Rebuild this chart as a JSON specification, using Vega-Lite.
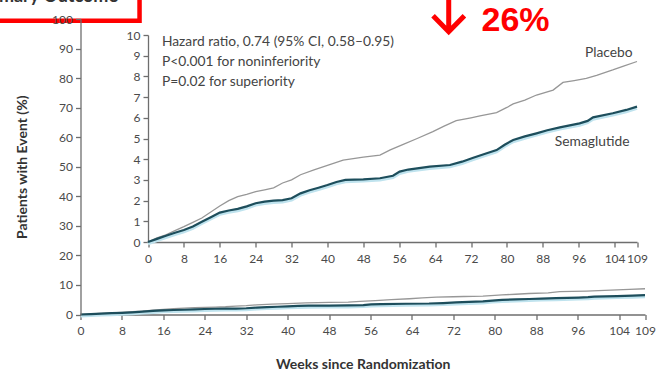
{
  "$schema": "https://vega.github.io/schema/vega-lite/v6.json",
  "width": 564.5,
  "height": 295.5,
  "autosize": {"type": "none"},
  "padding": {"left": 80.5, "top": 19, "right": 14, "bottom": 59.5},
  "background": "white",
  "config": {
    "view": {"stroke": null},
    "font": "Lato",
    "axis": {
      "grid": false,
      "domainColor": "#6e6e6e",
      "domainWidth": 1.3,
      "tickColor": "#6e6e6e",
      "tickWidth": 1.3,
      "tickSize": 5,
      "labelColor": "#4a4a4a",
      "labelFontSize": 12,
      "labelPadding": 3,
      "labelOverlap": false,
      "labelFlush": false,
      "titleColor": "#333333",
      "titleFontSize": 14,
      "titleFontWeight": "bold"
    }
  },
  "datasets": {
    "km": [
      {"arm": "Placebo", "week": 0, "pct": 0},
      {"arm": "Placebo", "week": 2, "pct": 0.2},
      {"arm": "Placebo", "week": 4, "pct": 0.35},
      {"arm": "Placebo", "week": 6, "pct": 0.55},
      {"arm": "Placebo", "week": 8, "pct": 0.74},
      {"arm": "Placebo", "week": 10, "pct": 0.95},
      {"arm": "Placebo", "week": 12, "pct": 1.16},
      {"arm": "Placebo", "week": 14, "pct": 1.45},
      {"arm": "Placebo", "week": 16, "pct": 1.74},
      {"arm": "Placebo", "week": 18, "pct": 2.0},
      {"arm": "Placebo", "week": 20, "pct": 2.19},
      {"arm": "Placebo", "week": 22, "pct": 2.3},
      {"arm": "Placebo", "week": 24, "pct": 2.43},
      {"arm": "Placebo", "week": 26, "pct": 2.52},
      {"arm": "Placebo", "week": 28, "pct": 2.62},
      {"arm": "Placebo", "week": 30, "pct": 2.85},
      {"arm": "Placebo", "week": 32, "pct": 3.0},
      {"arm": "Placebo", "week": 34, "pct": 3.25},
      {"arm": "Placebo", "week": 37, "pct": 3.48},
      {"arm": "Placebo", "week": 40, "pct": 3.7},
      {"arm": "Placebo", "week": 43.5, "pct": 3.96},
      {"arm": "Placebo", "week": 48, "pct": 4.1},
      {"arm": "Placebo", "week": 51.7, "pct": 4.2},
      {"arm": "Placebo", "week": 54, "pct": 4.45},
      {"arm": "Placebo", "week": 56.9, "pct": 4.72},
      {"arm": "Placebo", "week": 60, "pct": 5.0},
      {"arm": "Placebo", "week": 63.5, "pct": 5.33},
      {"arm": "Placebo", "week": 66, "pct": 5.6},
      {"arm": "Placebo", "week": 68.7, "pct": 5.86},
      {"arm": "Placebo", "week": 72, "pct": 6.0},
      {"arm": "Placebo", "week": 74, "pct": 6.09},
      {"arm": "Placebo", "week": 77.7, "pct": 6.25},
      {"arm": "Placebo", "week": 80, "pct": 6.5},
      {"arm": "Placebo", "week": 81.4, "pct": 6.67},
      {"arm": "Placebo", "week": 84, "pct": 6.85},
      {"arm": "Placebo", "week": 86.6, "pct": 7.1},
      {"arm": "Placebo", "week": 90.3, "pct": 7.34},
      {"arm": "Placebo", "week": 92.5, "pct": 7.71},
      {"arm": "Placebo", "week": 95, "pct": 7.8},
      {"arm": "Placebo", "week": 97.7, "pct": 7.9},
      {"arm": "Placebo", "week": 100, "pct": 8.05},
      {"arm": "Placebo", "week": 103.6, "pct": 8.31},
      {"arm": "Placebo", "week": 106, "pct": 8.5},
      {"arm": "Placebo", "week": 109, "pct": 8.72},
      {"arm": "Semaglutide", "week": 0, "pct": 0},
      {"arm": "Semaglutide", "week": 2, "pct": 0.15},
      {"arm": "Semaglutide", "week": 4, "pct": 0.3},
      {"arm": "Semaglutide", "week": 6, "pct": 0.45},
      {"arm": "Semaglutide", "week": 8, "pct": 0.58},
      {"arm": "Semaglutide", "week": 10, "pct": 0.75},
      {"arm": "Semaglutide", "week": 12, "pct": 0.98},
      {"arm": "Semaglutide", "week": 14, "pct": 1.2},
      {"arm": "Semaglutide", "week": 16, "pct": 1.42},
      {"arm": "Semaglutide", "week": 18, "pct": 1.52},
      {"arm": "Semaglutide", "week": 20, "pct": 1.6},
      {"arm": "Semaglutide", "week": 22, "pct": 1.72},
      {"arm": "Semaglutide", "week": 24, "pct": 1.87},
      {"arm": "Semaglutide", "week": 26, "pct": 1.95},
      {"arm": "Semaglutide", "week": 28, "pct": 2.0},
      {"arm": "Semaglutide", "week": 30, "pct": 2.02},
      {"arm": "Semaglutide", "week": 32, "pct": 2.11},
      {"arm": "Semaglutide", "week": 34, "pct": 2.35},
      {"arm": "Semaglutide", "week": 36, "pct": 2.5},
      {"arm": "Semaglutide", "week": 38, "pct": 2.62},
      {"arm": "Semaglutide", "week": 40, "pct": 2.75},
      {"arm": "Semaglutide", "week": 42, "pct": 2.9},
      {"arm": "Semaglutide", "week": 44, "pct": 3.0},
      {"arm": "Semaglutide", "week": 48, "pct": 3.03},
      {"arm": "Semaglutide", "week": 51.7, "pct": 3.08},
      {"arm": "Semaglutide", "week": 54.6, "pct": 3.2},
      {"arm": "Semaglutide", "week": 56.1, "pct": 3.4},
      {"arm": "Semaglutide", "week": 58, "pct": 3.5},
      {"arm": "Semaglutide", "week": 62.8, "pct": 3.64},
      {"arm": "Semaglutide", "week": 67.3, "pct": 3.72},
      {"arm": "Semaglutide", "week": 70, "pct": 3.88},
      {"arm": "Semaglutide", "week": 72.5, "pct": 4.07},
      {"arm": "Semaglutide", "week": 75, "pct": 4.25},
      {"arm": "Semaglutide", "week": 77.7, "pct": 4.44},
      {"arm": "Semaglutide", "week": 79.5, "pct": 4.7},
      {"arm": "Semaglutide", "week": 81.4, "pct": 4.93},
      {"arm": "Semaglutide", "week": 84, "pct": 5.1},
      {"arm": "Semaglutide", "week": 86.6, "pct": 5.25},
      {"arm": "Semaglutide", "week": 89, "pct": 5.4},
      {"arm": "Semaglutide", "week": 91.8, "pct": 5.54},
      {"arm": "Semaglutide", "week": 96.2, "pct": 5.73},
      {"arm": "Semaglutide", "week": 98, "pct": 5.85},
      {"arm": "Semaglutide", "week": 99.2, "pct": 6.02},
      {"arm": "Semaglutide", "week": 103.6, "pct": 6.22},
      {"arm": "Semaglutide", "week": 106.6, "pct": 6.38},
      {"arm": "Semaglutide", "week": 109, "pct": 6.54}
    ]
  },
  "resolve": {
    "scale": {"x": "independent", "y": "independent"},
    "axis": {"x": "independent", "y": "independent"}
  },
  "layer": [
    {
      "layer": [
        {
          "data": {"name": "km"},
          "transform": [{"filter": "datum.arm === 'Semaglutide'"}],
          "mark": {"type": "line", "color": "#bfe3ee", "strokeWidth": 3, "yOffset": 1.5},
          "encoding": {
            "x": {"field": "week", "type": "quantitative", "scale": {"domain": [0, 109], "nice": false, "zero": false},
              "axis": {"orient": "bottom", "values": [0, 8, 16, 24, 32, 40, 48, 56, 64, 72, 80, 88, 96, 104, 109], "title": "Weeks since Randomization", "titleBaseline": "middle", "titleY": 50, "labelPadding": 6, "labelOverlap": false}},
            "y": {"field": "pct", "type": "quantitative", "scale": {"domain": [0, 100], "nice": false},
              "axis": {"orient": "left", "zindex": 1, "values": [0, 10, 20, 30, 40, 50, 60, 70, 80, 90, 100], "title": "Patients with Event (%)", "titleBaseline": "middle", "titleX": -58.5, "titleY": 147.75, "labelOverlap": false}}
          }
        },
        {
          "data": {"name": "km"},
          "mark": {"type": "line"},
          "encoding": {
            "x": {"field": "week", "type": "quantitative",
              "axis": {"orient": "bottom", "values": [0, 8, 16, 24, 32, 40, 48, 56, 64, 72, 80, 88, 96, 104, 109], "title": "Weeks since Randomization", "titleBaseline": "middle", "titleY": 50, "labelPadding": 6, "labelOverlap": false}},
            "y": {"field": "pct", "type": "quantitative",
              "axis": {"orient": "left", "zindex": 1, "values": [0, 10, 20, 30, 40, 50, 60, 70, 80, 90, 100], "title": "Patients with Event (%)", "titleBaseline": "middle", "titleX": -58.5, "titleY": 147.75, "labelOverlap": false}},
            "color": {"field": "arm", "type": "nominal", "scale": {"domain": ["Placebo", "Semaglutide"], "range": ["#979797", "#1d4e5c"]}, "legend": null},
            "strokeWidth": {"field": "arm", "type": "nominal", "scale": {"domain": ["Placebo", "Semaglutide"], "range": [1.3, 2.2]}, "legend": null}
          }
        },
        {
          "data": {"values": [{"box": "outcome"}]},
          "mark": {"type": "rect", "fill": "white", "stroke": "#ff0000", "strokeWidth": 4.5},
          "encoding": {
            "x": {"datum": -20, "type": "quantitative",
              "axis": {"orient": "bottom", "values": [0, 8, 16, 24, 32, 40, 48, 56, 64, 72, 80, 88, 96, 104, 109], "title": "Weeks since Randomization", "titleBaseline": "middle", "titleY": 50, "labelPadding": 6, "labelOverlap": false}},
            "x2": {"datum": 11.4},
            "y": {"datum": 99.4, "type": "quantitative",
              "axis": {"orient": "left", "zindex": 1, "values": [0, 10, 20, 30, 40, 50, 60, 70, 80, 90, 100], "title": "Patients with Event (%)", "titleBaseline": "middle", "titleX": -58.5, "titleY": 147.75, "labelOverlap": false}},
            "y2": {"datum": 112}
          }
        },
        {
          "data": {"values": [{"label": "Primary Outcome"}]},
          "mark": {"type": "text", "align": "right", "baseline": "alphabetic", "fontSize": 18, "fontWeight": "bold", "color": "#333333"},
          "encoding": {
            "x": {"datum": 7.24, "type": "quantitative",
              "axis": {"orient": "bottom", "values": [0, 8, 16, 24, 32, 40, 48, 56, 64, 72, 80, 88, 96, 104, 109], "title": "Weeks since Randomization", "titleBaseline": "middle", "titleY": 50, "labelPadding": 6, "labelOverlap": false}},
            "y": {"datum": 105.9, "type": "quantitative",
              "axis": {"orient": "left", "zindex": 1, "values": [0, 10, 20, 30, 40, 50, 60, 70, 80, 90, 100], "title": "Patients with Event (%)", "titleBaseline": "middle", "titleX": -58.5, "titleY": 147.75, "labelOverlap": false}},
            "text": {"field": "label"}
          }
        },
        {
          "data": {"values": [{"marker": "down arrow"}]},
          "mark": {"type": "point", "filled": false, "opacity": 1, "stroke": "#ff0000", "strokeWidth": 5, "size": 1089,
            "shape": "M0,-1L0,0.92M-0.95,-0.05L0,0.92L0.95,-0.05"},
          "encoding": {
            "x": {"datum": 71.1, "type": "quantitative",
              "axis": {"orient": "bottom", "values": [0, 8, 16, 24, 32, 40, 48, 56, 64, 72, 80, 88, 96, 104, 109], "title": "Weeks since Randomization", "titleBaseline": "middle", "titleY": 50, "labelPadding": 6, "labelOverlap": false}},
            "y": {"datum": 100.85, "type": "quantitative",
              "axis": {"orient": "left", "zindex": 1, "values": [0, 10, 20, 30, 40, 50, 60, 70, 80, 90, 100], "title": "Patients with Event (%)", "titleBaseline": "middle", "titleX": -58.5, "titleY": 147.75, "labelOverlap": false}}
          }
        },
        {
          "data": {"values": [{"label": "26%"}]},
          "mark": {"type": "text", "align": "center", "baseline": "alphabetic", "fontSize": 34, "fontWeight": "bold", "font": "Liberation Sans", "color": "#ff0000"},
          "encoding": {
            "x": {"datum": 84.0, "type": "quantitative",
              "axis": {"orient": "bottom", "values": [0, 8, 16, 24, 32, 40, 48, 56, 64, 72, 80, 88, 96, 104, 109], "title": "Weeks since Randomization", "titleBaseline": "middle", "titleY": 50, "labelPadding": 6, "labelOverlap": false}},
            "y": {"datum": 96.1, "type": "quantitative",
              "axis": {"orient": "left", "zindex": 1, "values": [0, 10, 20, 30, 40, 50, 60, 70, 80, 90, 100], "title": "Patients with Event (%)", "titleBaseline": "middle", "titleX": -58.5, "titleY": 147.75, "labelOverlap": false}},
            "text": {"field": "label"}
          }
        }
      ]
    },
    {
      "layer": [
        {
          "data": {"name": "km"},
          "transform": [{"filter": "datum.arm === 'Semaglutide'"}],
          "mark": {"type": "line", "color": "#bfe3ee", "strokeWidth": 3, "yOffset": 1.8},
          "encoding": {
            "x": {"field": "week", "type": "quantitative", "scale": {"domain": [0, 109], "range": [67.5, 556.5], "nice": false, "zero": false},
              "axis": {"orient": "bottom", "offset": -72.5, "values": [0, 8, 16, 24, 32, 40, 48, 56, 64, 72, 80, 88, 96, 104, 109], "title": null, "labelPadding": 6, "labelOverlap": false}},
            "y": {"field": "pct", "type": "quantitative", "scale": {"domain": [0, 10], "range": [223, 16], "nice": false},
              "axis": {"orient": "left", "offset": -67.5, "values": [0, 1, 2, 3, 4, 5, 6, 7, 8, 9, 10], "title": null, "labelOverlap": false}}
          }
        },
        {
          "data": {"name": "km"},
          "mark": {"type": "line"},
          "encoding": {
            "x": {"field": "week", "type": "quantitative",
              "axis": {"orient": "bottom", "offset": -72.5, "values": [0, 8, 16, 24, 32, 40, 48, 56, 64, 72, 80, 88, 96, 104, 109], "title": null, "labelPadding": 6, "labelOverlap": false}},
            "y": {"field": "pct", "type": "quantitative",
              "axis": {"orient": "left", "offset": -67.5, "values": [0, 1, 2, 3, 4, 5, 6, 7, 8, 9, 10], "title": null, "labelOverlap": false}},
            "color": {"field": "arm", "type": "nominal", "scale": {"domain": ["Placebo", "Semaglutide"], "range": ["#979797", "#1d4e5c"]}, "legend": null},
            "strokeWidth": {"field": "arm", "type": "nominal", "scale": {"domain": ["Placebo", "Semaglutide"], "range": [1.3, 2.2]}, "legend": null}
          }
        },
        {
          "data": {"values": [
            {"label": "Hazard ratio, 0.74 (95% CI, 0.58–0.95)", "line": 1},
            {"label": "P<0.001 for noninferiority", "line": 2},
            {"label": "P=0.02 for superiority", "line": 3}
          ]},
          "mark": {"type": "text", "align": "left", "baseline": "middle", "fontSize": 13.8, "color": "#444444"},
          "encoding": {
            "x": {"datum": 3.1, "type": "quantitative",
              "axis": {"orient": "bottom", "offset": -72.5, "values": [0, 8, 16, 24, 32, 40, 48, 56, 64, 72, 80, 88, 96, 104, 109], "title": null, "labelPadding": 6, "labelOverlap": false}},
            "y": {"datum": 9.66, "type": "quantitative",
              "axis": {"orient": "left", "offset": -67.5, "values": [0, 1, 2, 3, 4, 5, 6, 7, 8, 9, 10], "title": null, "labelOverlap": false}},
            "yOffset": {"field": "line", "type": "quantitative", "scale": {"domain": [1, 3], "range": [0, 39.5]}},
            "text": {"field": "label"}
          }
        },
        {
          "data": {"values": [{"label": "Placebo"}]},
          "mark": {"type": "text", "align": "center", "baseline": "middle", "fontSize": 13.8, "color": "#444444"},
          "encoding": {
            "x": {"datum": 102.7, "type": "quantitative",
              "axis": {"orient": "bottom", "offset": -72.5, "values": [0, 8, 16, 24, 32, 40, 48, 56, 64, 72, 80, 88, 96, 104, 109], "title": null, "labelPadding": 6, "labelOverlap": false}},
            "y": {"datum": 9.14, "type": "quantitative",
              "axis": {"orient": "left", "offset": -67.5, "values": [0, 1, 2, 3, 4, 5, 6, 7, 8, 9, 10], "title": null, "labelOverlap": false}},
            "text": {"field": "label"}
          }
        },
        {
          "data": {"values": [{"label": "Semaglutide"}]},
          "mark": {"type": "text", "align": "center", "baseline": "middle", "fontSize": 13.8, "color": "#444444"},
          "encoding": {
            "x": {"datum": 99, "type": "quantitative",
              "axis": {"orient": "bottom", "offset": -72.5, "values": [0, 8, 16, 24, 32, 40, 48, 56, 64, 72, 80, 88, 96, 104, 109], "title": null, "labelPadding": 6, "labelOverlap": false}},
            "y": {"datum": 4.82, "type": "quantitative",
              "axis": {"orient": "left", "offset": -67.5, "values": [0, 1, 2, 3, 4, 5, 6, 7, 8, 9, 10], "title": null, "labelOverlap": false}},
            "text": {"field": "label"}
          }
        }
      ]
    }
  ]
}
